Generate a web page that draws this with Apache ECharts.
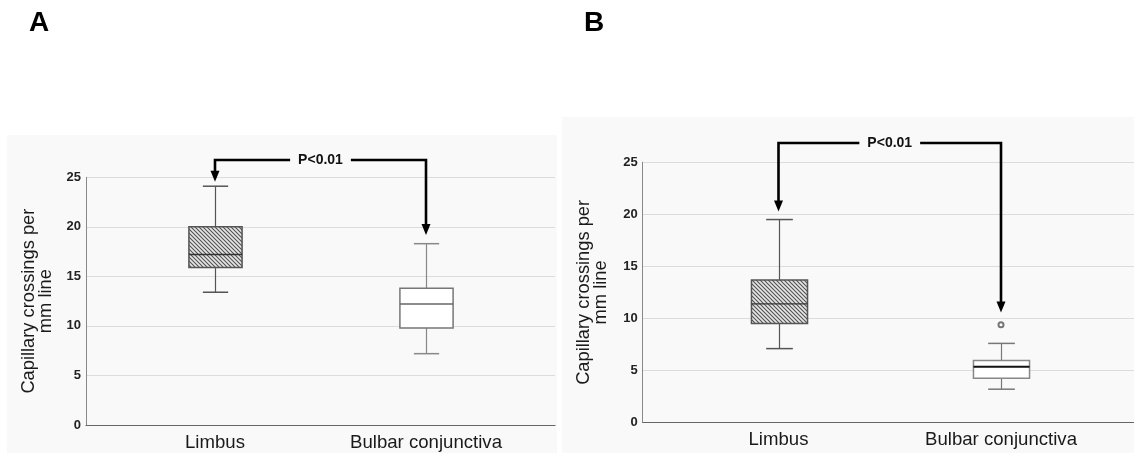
<!DOCTYPE html>
<html>
<head>
<meta charset="utf-8">
<script src="https://cdn.jsdelivr.net/npm/echarts@6/dist/echarts.min.js"></script>
<style>
html, body { margin: 0; padding: 0; background: #fff; }
#main { width: 1134px; height: 453px; }
</style>
</head>
<body>
<div id="main"></div>
<script>
const categories = ['Limbus', 'Bulbar conjunctiva'];
// each row: [min, Q1, median, Q3, max]
const boxA = [[13.4, 15.9, 17.2, 20.0, 24.1], [7.2, 9.8, 12.2, 13.8, 18.3]];
const boxB = [[7.1, 9.5, 11.4, 13.7, 19.5], [3.2, 4.25, 5.35, 5.95, 7.6]];
const outliersB = [[1, 9.4]];
const yMax = 25, yStep = 5;
const pLabel = 'P<0.01';
// bracket height and arrow tip values (A, B)
const bracketLevel = [26.75, 26.85];
const arrowTipsA = [24.55, 19.17];
const arrowTipsB = [20.27, 10.56];

const yTitle = 'Capillary crossings per\nmm line';
const font = 'Arial, "Liberation Sans", sans-serif';
const panelBg = '#f9f9f9';

var chart = echarts.init(document.getElementById('main'));

// diagonal hatch for the limbus boxes
const hatch = document.createElement('canvas');
hatch.width = 4; hatch.height = 4;
(function () {
  let c = hatch.getContext('2d');
  c.fillStyle = '#e6e6e6';
  c.fillRect(0, 0, 4, 4);
  c.strokeStyle = '#505050';
  c.lineWidth = 1.1;
  c.beginPath();
  c.moveTo(-1, -1); c.lineTo(5, 5);
  c.moveTo(-3, 1); c.lineTo(1, 5);
  c.moveTo(1, -3); c.lineTo(5, 1);
  c.stroke();
})();

const stylesA = [
  { fill: { image: hatch, repeat: 'repeat' }, stroke: '#555', whisker: '#555', median: '#333', mw: 1.5 },
  { fill: '#fff', stroke: '#777', whisker: '#888', median: '#666', mw: 1.5 }
];
const stylesB = [
  { fill: { image: hatch, repeat: 'repeat' }, stroke: '#555', whisker: '#555', median: '#333', mw: 1.2 },
  { fill: '#fff', stroke: '#888', whisker: '#777', median: '#111', mw: 2 }
];

function boxRenderer(styles) {
  return function (params, api) {
    let i = api.value(0);
    let lo = api.coord([i, api.value(1)]);
    let q1 = api.coord([i, api.value(2)]);
    let md = api.coord([i, api.value(3)]);
    let q3 = api.coord([i, api.value(4)]);
    let hi = api.coord([i, api.value(5)]);
    let band = api.size([1, 0])[0];
    // half widths of box and whisker caps
    let bw = band * 0.126, cw = band * 0.06;
    let x = Math.round(lo[0]) + 0.5;
    let s = styles[i];
    let ln = (x1, y1, x2, y2, c, w) => ({
      type: 'line', shape: { x1: x1, y1: y1, x2: x2, y2: y2 },
      style: { stroke: c, lineWidth: w }
    });
    return {
      type: 'group',
      children: [
        ln(x, hi[1], x, q3[1], s.whisker, 1.2),
        ln(x, q1[1], x, lo[1], s.whisker, 1.2),
        ln(x - cw, hi[1], x + cw, hi[1], s.whisker, 1.5),
        ln(x - cw, lo[1], x + cw, lo[1], s.whisker, 1.5),
        {
          type: 'rect',
          shape: { x: x - bw, y: q3[1], width: bw * 2, height: q1[1] - q3[1] },
          style: { fill: s.fill, stroke: s.stroke, lineWidth: 1.5 }
        },
        ln(x - bw, md[1], x + bw, md[1], s.median, s.mw)
      ]
    };
  };
}

function yMain(name, gap) {
  return {
    type: 'value', min: 0, max: yMax, interval: yStep,
    name: name, nameLocation: 'middle', nameRotate: 90, nameGap: gap,
    nameTextStyle: { fontSize: 18.3, color: '#1a1a1a', fontFamily: font, lineHeight: 17 },
    axisLine: { show: true, lineStyle: { color: '#888', width: 1 } },
    axisTick: { show: false },
    axisLabel: { fontSize: 13, fontWeight: 'bold', color: '#222', fontFamily: font, margin: 5 },
    splitLine: { lineStyle: { color: '#dcdcdc', width: 1.2 } }
  };
}
function yHidden() {
  return { type: 'value', min: 0, max: yMax, show: false, splitLine: { show: false } };
}
function xLine() {
  return {
    type: 'value', min: 0, max: 1,
    axisLine: { show: true, onZero: false, lineStyle: { color: '#666', width: 1.2 } },
    axisTick: { show: false }, axisLabel: { show: false }, splitLine: { show: false }
  };
}
function xCat(idx) {
  return {
    type: 'category', data: categories, gridIndex: idx,
    axisLine: { show: false }, axisTick: { show: false },
    axisLabel: { fontSize: 18.6, color: '#1a1a1a', fontFamily: font, margin: 8 }
  };
}

const option = {
  animation: false,
  backgroundColor: '#fff',
  title: [
    { text: 'A', left: 29, top: 9, padding: 0, textStyle: { fontSize: 28, fontWeight: 'bold', color: '#000', fontFamily: font } },
    { text: 'B', left: 584, top: 9, padding: 0, textStyle: { fontSize: 28, fontWeight: 'bold', color: '#000', fontFamily: font } }
  ],
  grid: [
    { left: 86, top: 177.3, width: 469, height: 247.7 },
    { left: 109.5, top: 177.3, width: 422, height: 247.7 },
    { left: 642.7, top: 162.3, width: 491.3, height: 260.2 },
    { left: 667.25, top: 162.3, width: 445, height: 260.2 }
  ],
  xAxis: [
    Object.assign(xLine(), { gridIndex: 0 }),
    xCat(1),
    Object.assign(xLine(), { gridIndex: 2 }),
    xCat(3)
  ],
  yAxis: [
    Object.assign(yMain(yTitle, 32), { gridIndex: 0 }),
    Object.assign(yHidden(), { gridIndex: 1 }),
    Object.assign(yMain(yTitle, 33), { gridIndex: 2 }),
    Object.assign(yHidden(), { gridIndex: 3 })
  ],
  series: [
    {
      type: 'custom', xAxisIndex: 1, yAxisIndex: 1, z: 5,
      renderItem: boxRenderer(stylesA),
      encode: { x: 0, y: [1, 2, 3, 4, 5] },
      data: boxA.map((b, i) => [i].concat(b))
    },
    {
      type: 'custom', xAxisIndex: 3, yAxisIndex: 3, z: 5,
      renderItem: boxRenderer(stylesB),
      encode: { x: 0, y: [1, 2, 3, 4, 5] },
      data: boxB.map((b, i) => [i].concat(b))
    },
    {
      type: 'scatter', xAxisIndex: 3, yAxisIndex: 3, z: 5,
      symbol: 'emptyCircle', symbolSize: 5,
      itemStyle: { color: '#555', borderWidth: 1 },
      data: outliersB
    }
  ]
};

chart.setOption(option);

function bracket(k, level, tips) {
  let conv = v => chart.convertToPixel({ xAxisIndex: k, yAxisIndex: k }, v);
  let p0 = conv([0, level]), p1 = conv([1, level]);
  let t0 = conv([0, tips[0]]), t1 = conv([1, tips[1]]);
  let head = 11, half = 4.5;
  let arrow = t => ({
    type: 'polygon', z: 20,
    shape: { points: [[t[0] - half, t[1] - head], [t[0] + half, t[1] - head], [t[0], t[1]]] },
    style: { fill: '#000' }
  });
  return [
    {
      type: 'polyline', z: 20,
      shape: { points: [[t0[0], t0[1] - head + 1], [p0[0], p0[1]], [p1[0], p1[1]], [t1[0], t1[1] - head + 1]] },
      style: { stroke: '#000', lineWidth: 2.6, fill: 'none' }
    },
    arrow(t0), arrow(t1),
    {
      type: 'text', z: 21, x: (p0[0] + p1[0]) / 2, y: p0[1],
      style: {
        text: pLabel, font: 'bold 14px ' + font, fill: '#111',
        align: 'center', verticalAlign: 'middle',
        backgroundColor: panelBg, padding: [2, 8]
      }
    }
  ];
}

chart.setOption({
  graphic: [
    { type: 'rect', z: -10, shape: { x: 7, y: 135, width: 550, height: 318 }, style: { fill: panelBg } },
    { type: 'rect', z: -10, shape: { x: 562, y: 117, width: 572, height: 336 }, style: { fill: panelBg } }
  ].concat(bracket(1, bracketLevel[0], arrowTipsA), bracket(3, bracketLevel[1], arrowTipsB))
});
</script>
</body>
</html>
